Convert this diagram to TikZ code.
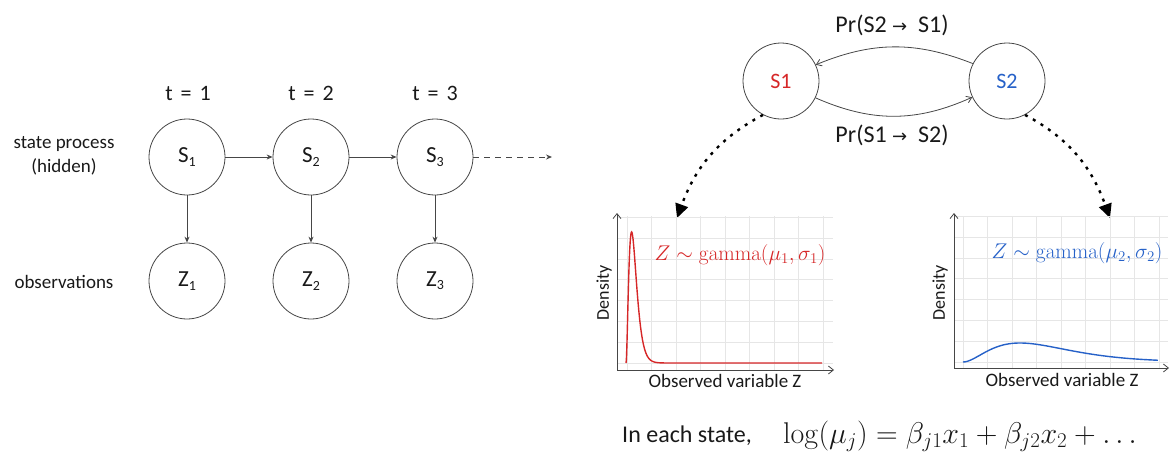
\RequirePackage{fix-cm}
\documentclass[tikz,border=0pt]{standalone}
\usepackage[no-math]{fontspec}
\setmainfont{Carlito}
\newfontfamily\arrowfnt{DejaVu Sans}
\usetikzlibrary{arrows.meta}
\definecolor{sred}{RGB}{214,39,40}
\definecolor{sblue}{RGB}{38,97,200}
\definecolor{ink}{RGB}{25,25,25}
\definecolor{edgec}{RGB}{70,70,70}
\definecolor{gridc}{RGB}{230,230,230}
\newcommand\subd[1]{\raisebox{-0.3ex}{\fontsize{14}{14}\selectfont #1}}
\newcommand\tlab[1]{t\hspace{0.36em}=\hspace{0.36em}#1}
\begin{document}
\begin{tikzpicture}[x=1pt,y=-1pt,
  state/.style={circle, draw=edgec, line width=0.8pt, minimum size=76pt, inner sep=0pt, text=ink, font=\fontsize{23}{23}\selectfont},
  lbl/.style={text=ink, font=\fontsize{19}{24}\selectfont, align=center, inner sep=0pt},
  tlbl/.style={text=ink, font=\fontsize{22}{22}\selectfont, inner sep=0pt},
  chain/.style={draw=edgec, line width=0.9pt, -{Stealth[length=6pt,width=5pt]}},
  trans/.style={draw=edgec, line width=0.8pt, -{Straight Barb[length=5pt,width=7pt]}},
  prl/.style={text=ink, font=\fontsize{24}{24}\selectfont, inner sep=0pt},
  dotarrow/.style={draw=black, line width=2.4pt, dash pattern=on 3pt off 6pt, -{Triangle[length=14pt,width=13pt]}},
  gline/.style={draw=gridc, line width=0.8pt},
  axis/.style={draw=edgec, line width=0.8pt, {Straight Barb[length=5pt,width=8pt]}-{Straight Barb[length=5pt,width=8pt]}},
  curve/.style={line width=1.4pt},
  gam/.style={font=\fontsize{21.3}{21.3}\selectfont, inner sep=0pt},
  dens/.style={text=ink, font=\fontsize{18}{18}\selectfont, rotate=90, inner sep=0pt},
]
\useasboundingbox (0,0) rectangle (1174,453);

% ---------- left: hidden Markov chain ----------
\node[tlbl] (t1) at (188,93) {\tlab{1}};
\node[tlbl] (t2) at (311,93) {\tlab{2}};
\node[tlbl] (t3) at (435,93) {\tlab{3}};

\node[lbl] (sp) at (64,156) {state process\\(hidden)};
\node[lbl] (obs) at (64,282) {observations};

\node[state] (s1) at (187,157) {S\subd{1}};
\node[state] (s2) at (311,157) {S\subd{2}};
\node[state] (s3) at (435,157) {S\subd{3}};
\node[state] (z1) at (187,281) {Z\subd{1}};
\node[state] (z2) at (311,281) {Z\subd{2}};
\node[state] (z3) at (435,281) {Z\subd{3}};
\coordinate (cont) at (552,157);

\draw[chain] (s1) -- (s2);
\draw[chain] (s2) -- (s3);
\draw[chain, dash pattern=on 6pt off 5pt] (s3) -- (cont);
\draw[chain] (s1) -- (z1);
\draw[chain] (s2) -- (z2);
\draw[chain] (s3) -- (z3);

% ---------- right: two-state model ----------
\node[state, text=sred, font=\fontsize{22}{22}\selectfont] (rs1) at (781,81) {S1};
\node[state, text=sblue, font=\fontsize{22}{22}\selectfont] (rs2) at (1007,81) {S2};
\draw[trans] (rs2.153) to[bend right=22] (rs1.25);
\draw[trans] (rs1.334) to[bend right=24] (rs2.205);
\node[prl] (p21) at (892,25) {Pr(S2 {\arrowfnt\fontsize{18}{18}\selectfont →}\ \ S1)};
\node[prl] (p12) at (892,135) {Pr(S1 {\arrowfnt\fontsize{18}{18}\selectfont →}\ \ S2)};

\coordinate (tip1) at (677,218);
\coordinate (tip2) at (1110,218);
\draw[dotarrow] (rs1.242) to[out=208, in=70] (tip1);
\draw[dotarrow] (rs2.298) to[out=332, in=110] (tip2);

% ---------- left density plot ----------
\foreach \k in {0,...,8} \draw[gline] ({627+24.5*\k},216) -- ({627+24.5*\k},370);
\foreach \k in {0,...,7} \draw[gline] (617,{363-20.8*\k}) -- (833,{363-20.8*\k});
\draw[axis] (617,213) |- (834,370);
\draw[curve, sred] plot[domain=0:20, samples=160, smooth] ({626+2.8*\x},{363-242*(\x*exp(-\x/2))^2}) -- (822,363);
\node[gam, text=sred] (f1) at (740,255) {$Z\sim\mathrm{gamma}(\mu_1,\sigma_1)$};
\node[dens] (d1) at (604,293) {Density};
\node[lbl] (o1) at (725,381) {Observed variable Z};

% ---------- right density plot ----------
\foreach \k in {0,...,8} \draw[gline] ({963+24.5*\k},216) -- ({963+24.5*\k},368);
\foreach \k in {0,...,7} \draw[gline] (954,{362-20.8*\k}) -- (1168,{362-20.8*\k});
\draw[axis] (954,213) |- (1169,368);
\draw[curve, sblue] plot[domain=0:6.84, samples=100, smooth] ({963+28.5*\x},{362-35.1*(\x*exp(-\x/2))^2});
\node[gam, text=sblue] (f2) at (1077,253) {$Z\sim\mathrm{gamma}(\mu_2,\sigma_2)$};
\node[dens] (d2) at (940,293) {Density};
\node[lbl] (o2) at (1062,380) {Observed variable Z};

% ---------- bottom ----------
\node[anchor=base, text=ink, font=\fontsize{24}{24}\selectfont, inner sep=0pt] (each) at (687,442) {In each state,};
\node[anchor=base west, text=ink, font=\fontsize{30}{30}\selectfont, inner sep=0pt] (eq) at (783,443) {$\log(\mu_j)=\beta_{j1}x_1+\beta_{j2}x_2+\ldots$};
\end{tikzpicture}
\end{document}
